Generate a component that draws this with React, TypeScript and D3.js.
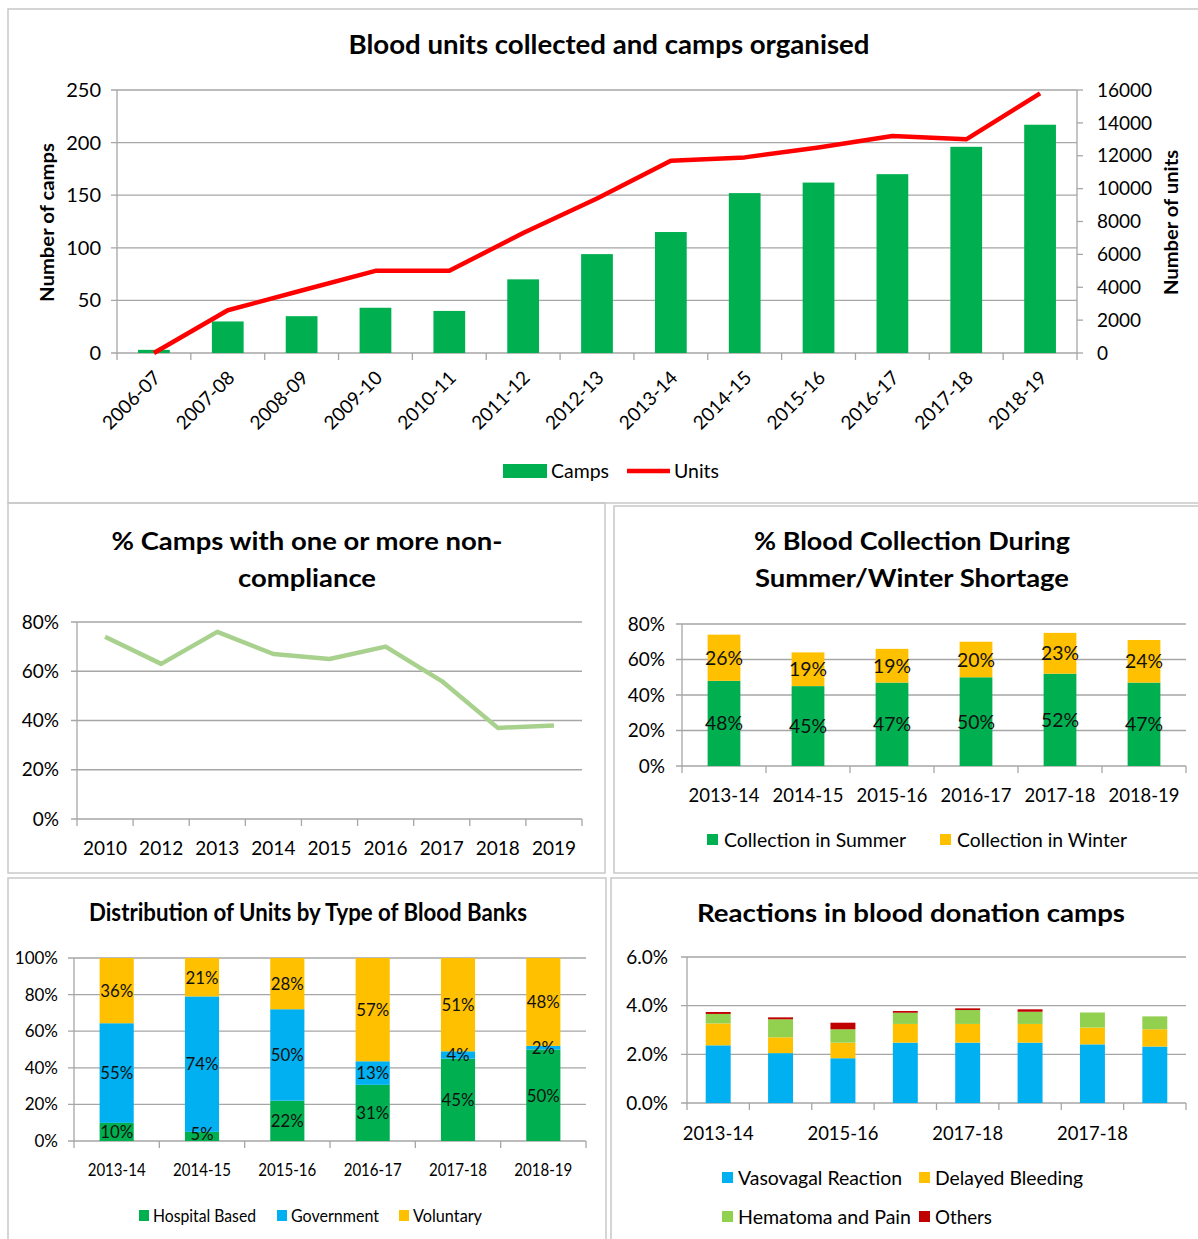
import React from "react";
import * as d3 from "d3";

// --- data ---
const topCats = ["2006-07", "2007-08", "2008-09", "2009-10", "2010-11", "2011-12", "2012-13", "2013-14", "2014-15", "2015-16", "2016-17", "2017-18", "2018-19"];
const camps = [3, 30, 35, 43, 40, 70, 94, 115, 152, 162, 170, 196, 217];
const units = [0, 2600, 3800, 5000, 5000, 7300, 9400, 11700, 11900, 12500, 13200, 13000, 15800];
const campTicks = [0, 50, 100, 150, 200, 250];
const unitTicks = [0, 2000, 4000, 6000, 8000, 10000, 12000, 14000, 16000];

const ncYears = ["2010", "2012", "2013", "2014", "2015", "2016", "2017", "2018", "2019"];
const nonCompliance = [74, 63, 76, 67, 65, 70, 56, 37, 38];
const ncTicks = [0, 20, 40, 60, 80];

const seasonCats = ["2013-14", "2014-15", "2015-16", "2016-17", "2017-18", "2018-19"];
const summer = [48, 45, 47, 50, 52, 47];
const winter = [26, 19, 19, 20, 23, 24];
const seasonTicks = [0, 20, 40, 60, 80];

const bankCats = ["2013-14", "2014-15", "2015-16", "2016-17", "2017-18", "2018-19"];
const hospital = [10, 5, 22, 31, 45, 50];
const government = [55, 74, 50, 13, 4, 2];
const voluntary = [36, 21, 28, 57, 51, 48];
const bankTicks = [0, 20, 40, 60, 80, 100];

const reactionCats = ["2013-14", "2014-15", "2015-16", "2016-17", "2017-18", "2018-19", "2017-18", "2018-19"];
const vasovagal = [2.37, 2.05, 1.84, 2.48, 2.48, 2.48, 2.41, 2.32];
const delayed = [0.9, 0.65, 0.64, 0.77, 0.77, 0.77, 0.69, 0.71];
const hematoma = [0.39, 0.74, 0.55, 0.46, 0.57, 0.5, 0.62, 0.53];
const others = [0.08, 0.08, 0.27, 0.07, 0.07, 0.1, 0, 0];
const reactionTicks = [0, 2, 4, 6];

const GREEN = "#00b050";
const YELLOW = "#ffc000";
const BLUE = "#00b0f0";
const LGREEN = "#92d050";
const DRED = "#c00000";
const GRID = "#a6a6a6";
const BORDER = "#c8c8c8";
const FONT = "Lato, 'Liberation Sans', sans-serif";

// value-axis gridlines + labels
function YGrid({ y, ticks, x0, x1, fmt, size = 18, gap = 17 }: any) {
  return (
    <g>
      {ticks.map((t: number) => (
        <g key={t}>
          <line x1={x0 - 6} x2={x1} y1={y(t)} y2={y(t)} stroke={GRID} strokeWidth={1.3} />
          <text x={x0 - gap} y={y(t)} dy="0.35em" textAnchor="end" fontSize={size}>{fmt(t)}</text>
        </g>
      ))}
      <line x1={x0} x2={x0} y1={y(ticks[0])} y2={y(ticks[ticks.length - 1])} stroke={GRID} strokeWidth={1.3} />
    </g>
  );
}

function XTicks({ x, cats, y0, x1 }: any) {
  return (
    <g>
      {cats.map((c: string, i: number) => {
        const e = (x(c) ?? 0) - (x.step() - x.bandwidth()) / 2;
        return <line key={i} x1={e} x2={e} y1={y0} y2={y0 + 7} stroke={GRID} strokeWidth={1.3} />;
      })}
      <line x1={x1} x2={x1} y1={y0} y2={y0 + 7} stroke={GRID} strokeWidth={1.3} />
    </g>
  );
}

function Title({ lines, cx, ys, lens, size }: any) {
  return (
    <g>
      {lines.map((l: string, i: number) => (
        <text key={i} x={cx} y={ys[i]} dy="0.35em" textAnchor="middle" fontWeight="bold" fontSize={size}
          textLength={lens[i]} lengthAdjust="spacingAndGlyphs">{l}</text>
      ))}
    </g>
  );
}

function LegendText({ x, y, len, size = 19, children }: any) {
  return (
    <text x={x} y={y} dy="0.35em" fontSize={size} textLength={len} lengthAdjust="spacingAndGlyphs">{children}</text>
  );
}

function TopChart() {
  const left = 117, right = 1077, top = 90, bottom = 353;
  const x = d3.scaleBand<string>().domain(topCats).range([left, right]).paddingInner(0.57).paddingOuter(0.285);
  const yL = d3.scaleLinear().domain([0, 250]).range([bottom, top]);
  const yR = d3.scaleLinear().domain([0, 16000]).range([bottom, top]);
  const line = d3.line<number>().x((_, i) => (x(topCats[i]) ?? 0) + x.bandwidth() / 2).y((d) => yR(d));
  return (
    <g>
      <Title lines={["Blood units collected and camps organised"]} cx={609} ys={[45]} lens={[521]} size={26} />
      <YGrid y={yL} ticks={campTicks} x0={left} x1={right} fmt={(t: number) => t} size={20} gap={16} />
      <line x1={right} x2={right} y1={bottom} y2={top} stroke={GRID} strokeWidth={1.3} />
      {unitTicks.map((t) => (
        <g key={t}>
          <line x1={right} x2={right + 6} y1={yR(t)} y2={yR(t)} stroke={GRID} strokeWidth={1.3} />
          <text x={right + 20} y={yR(t)} dy="0.35em" fontSize={19}>{t}</text>
        </g>
      ))}
      <XTicks x={x} cats={topCats} y0={bottom} x1={right} />
      {camps.map((d, i) => (
        <rect key={i} x={x(topCats[i])} y={yL(d)} width={x.bandwidth()} height={yL(0) - yL(d)} fill={GREEN} />
      ))}
      <path d={line(units) ?? ""} fill="none" stroke="#ff0000" strokeWidth={4.5} strokeLinejoin="round" />
      {topCats.map((c) => {
        const cx = (x(c) ?? 0) + x.bandwidth() / 2;
        return (
          <text key={c} transform={`translate(${cx + 8},${bottom + 26}) rotate(-45)`} textAnchor="end" fontSize={19}>{c}</text>
        );
      })}
      <text transform={`translate(54,${(top + bottom) / 2 + 1}) rotate(-90)`} textAnchor="middle" fontWeight="bold" fontSize={19}
        textLength={159} lengthAdjust="spacingAndGlyphs">Number of camps</text>
      <text transform={`translate(1178,${(top + bottom) / 2 + 1}) rotate(-90)`} textAnchor="middle" fontWeight="bold" fontSize={19}
        textLength={145} lengthAdjust="spacingAndGlyphs">Number of units</text>
      <rect x={503} y={464} width={44} height={14} fill={GREEN} />
      <LegendText x={551} y={471} len={58}>Camps</LegendText>
      <line x1={627} x2={670} y1={471} y2={471} stroke="#ff0000" strokeWidth={4.5} />
      <LegendText x={674} y={471} len={45}>Units</LegendText>
    </g>
  );
}

function NonCompChart() {
  const left = 77, right = 582, top = 622, bottom = 819;
  const x = d3.scaleBand<string>().domain(ncYears).range([left, right]);
  const y = d3.scaleLinear().domain([0, 80]).range([bottom, top]);
  const line = d3.line<number>().x((_, i) => (x(ncYears[i]) ?? 0) + x.bandwidth() / 2).y((d) => y(d));
  return (
    <g>
      <Title lines={["% Camps with one or more non-", "compliance"]} cx={307} ys={[541, 578]} lens={[391, 138]} size={25} />
      <YGrid y={y} ticks={ncTicks} x0={left} x1={right} fmt={(t: number) => `${t}%`} size={19} gap={18} />
      <XTicks x={x} cats={ncYears} y0={bottom} x1={right} />
      <path d={line(nonCompliance) ?? ""} fill="none" stroke="#a9d18e" strokeWidth={4.5} strokeLinejoin="round" />
      {ncYears.map((c) => (
        <text key={c} x={(x(c) ?? 0) + x.bandwidth() / 2} y={848} dy="0.35em" textAnchor="middle" fontSize={19}>{c}</text>
      ))}
    </g>
  );
}

function SeasonChart() {
  const left = 682, right = 1186, top = 624, bottom = 766;
  const x = d3.scaleBand<string>().domain(seasonCats).range([left, right]).paddingInner(0.61).paddingOuter(0.305);
  const y = d3.scaleLinear().domain([0, 80]).range([bottom, top]);
  const rows = seasonCats.map((_, i) => ({ s: summer[i], w: winter[i] }));
  const layers = d3.stack<any>().keys(["s", "w"])(rows);
  const vals = [summer, winter];
  const colors = [GREEN, YELLOW];
  return (
    <g>
      <Title lines={["% Blood Collection During", "Summer/Winter Shortage"]} cx={912} ys={[541, 578]} lens={[316, 314]} size={25} />
      <YGrid y={y} ticks={seasonTicks} x0={left} x1={right} fmt={(t: number) => `${t}%`} size={19} gap={17} />
      <XTicks x={x} cats={seasonCats} y0={bottom} x1={right} />
      {layers.map((layer, li) => (
        <g key={li}>
          {layer.map((seg, i) => (
            <rect key={i} x={x(seasonCats[i])} y={y(seg[1])} width={x.bandwidth()} height={y(seg[0]) - y(seg[1])} fill={colors[li]} />
          ))}
        </g>
      ))}
      {layers.map((layer, li) =>
        layer.map((seg, i) => (
          <text key={`${li}-${i}`} x={(x(seasonCats[i]) ?? 0) + x.bandwidth() / 2} y={y((seg[0] + seg[1]) / 2)} dy="0.35em"
            textAnchor="middle" fontSize={20} fill="#111" textLength={38} lengthAdjust="spacingAndGlyphs">{vals[li][i]}%</text>
        ))
      )}
      {seasonCats.map((c) => (
        <text key={c} x={(x(c) ?? 0) + x.bandwidth() / 2} y={795} dy="0.35em" textAnchor="middle" fontSize={19}
          textLength={71} lengthAdjust="spacingAndGlyphs">{c}</text>
      ))}
      <rect x={707} y={834} width={11} height={11} fill={GREEN} />
      <LegendText x={724} y={840} len={182}>Collection in Summer</LegendText>
      <rect x={940} y={834} width={11} height={11} fill={YELLOW} />
      <LegendText x={957} y={840} len={170}>Collection in Winter</LegendText>
    </g>
  );
}

function BankChart() {
  const left = 74, right = 586, top = 958, bottom = 1141;
  const x = d3.scaleBand<string>().domain(bankCats).range([left, right]).paddingInner(0.6).paddingOuter(0.3);
  const y = d3.scaleLinear().domain([0, 100]).range([bottom, top]);
  // 100% stacked: normalise each column
  const tot = bankCats.map((_, i) => hospital[i] + government[i] + voluntary[i]);
  const rows = bankCats.map((_, i) => ({
    h: (hospital[i] / tot[i]) * 100,
    g: (government[i] / tot[i]) * 100,
    v: (voluntary[i] / tot[i]) * 100,
  }));
  const layers = d3.stack<any>().keys(["h", "g", "v"])(rows);
  const vals = [hospital, government, voluntary];
  const colors = [GREEN, BLUE, YELLOW];
  return (
    <g>
      <Title lines={["Distribution of Units by Type of Blood Banks"]} cx={308} ys={[913]} lens={[438]} size={24} />
      <YGrid y={y} ticks={bankTicks} x0={left} x1={right} fmt={(t: number) => `${t}%`} size={17} gap={16} />
      <XTicks x={x} cats={bankCats} y0={bottom} x1={right} />
      {layers.map((layer, li) => (
        <g key={li}>
          {layer.map((seg, i) => (
            <rect key={i} x={x(bankCats[i])} y={y(seg[1])} width={x.bandwidth()} height={y(seg[0]) - y(seg[1])} fill={colors[li]} />
          ))}
        </g>
      ))}
      {layers.map((layer, li) =>
        layer.map((seg, i) => (
          <text key={`${li}-${i}`} x={(x(bankCats[i]) ?? 0) + x.bandwidth() / 2} y={Math.min(y((seg[0] + seg[1]) / 2), bottom - 7)} dy="0.35em"
            textAnchor="middle" fontSize={18} fill="#111" textLength={vals[li][i] < 10 ? 23 : 33} lengthAdjust="spacingAndGlyphs">
            {vals[li][i]}%
          </text>
        ))
      )}
      {bankCats.map((c) => (
        <text key={c} x={(x(c) ?? 0) + x.bandwidth() / 2} y={1170} dy="0.35em" textAnchor="middle" fontSize={17} textLength={58} lengthAdjust="spacingAndGlyphs">{c}</text>
      ))}
      <rect x={139} y={1210} width={10} height={11} fill={GREEN} />
      <LegendText x={153} y={1216} len={103} size={18}>Hospital Based</LegendText>
      <rect x={277} y={1210} width={10} height={11} fill={BLUE} />
      <LegendText x={291} y={1216} len={88} size={18}>Government</LegendText>
      <rect x={399} y={1210} width={10} height={11} fill={YELLOW} />
      <LegendText x={413} y={1216} len={69} size={18}>Voluntary</LegendText>
    </g>
  );
}

function ReactionChart() {
  const left = 687, right = 1186, top = 957, bottom = 1103;
  const keys = d3.range(reactionCats.length).map(String);
  const x = d3.scaleBand<string>().domain(keys).range([left, right]).paddingInner(0.6).paddingOuter(0.3);
  const y = d3.scaleLinear().domain([0, 6]).range([bottom, top]);
  const rows = reactionCats.map((_, i) => ({ a: vasovagal[i], b: delayed[i], c: hematoma[i], d: others[i] }));
  const layers = d3.stack<any>().keys(["a", "b", "c", "d"])(rows);
  const colors = [BLUE, YELLOW, LGREEN, DRED];
  return (
    <g>
      <Title lines={["Reactions in blood donation camps"]} cx={911} ys={[913]} lens={[428]} size={25} />
      <YGrid y={y} ticks={reactionTicks} x0={left} x1={right} fmt={(t: number) => `${t.toFixed(1)}%`} size={19} gap={19} />
      <XTicks x={x} cats={keys} y0={bottom} x1={right} />
      {layers.map((layer, li) => (
        <g key={li}>
          {layer.map((seg, i) => (
            <rect key={i} x={x(keys[i])} y={y(seg[1])} width={x.bandwidth()} height={Math.max(0, y(seg[0]) - y(seg[1]))} fill={colors[li]} />
          ))}
        </g>
      ))}
      {reactionCats.map((c, i) =>
        i % 2 === 0 ? (
          <text key={i} x={(x(keys[i]) ?? 0) + x.bandwidth() / 2} y={1133} dy="0.35em" textAnchor="middle" fontSize={19}
            textLength={71} lengthAdjust="spacingAndGlyphs">{c}</text>
        ) : null
      )}
      <rect x={722} y={1172} width={11} height={11} fill={BLUE} />
      <LegendText x={738} y={1178} len={164}>Vasovagal Reaction</LegendText>
      <rect x={919} y={1172} width={11} height={11} fill={YELLOW} />
      <LegendText x={935} y={1178} len={148}>Delayed Bleeding</LegendText>
      <rect x={722} y={1211} width={11} height={11} fill={LGREEN} />
      <LegendText x={738} y={1217} len={173}>Hematoma and Pain</LegendText>
      <rect x={919} y={1211} width={11} height={11} fill={DRED} />
      <LegendText x={935} y={1217} len={57}>Others</LegendText>
    </g>
  );
}

export default function App() {
  return (
    <>
      <style>{"body{margin:0}"}</style>
      <svg width={1198} height={1239} style={{ display: "block", fontFamily: FONT, background: "#fff" }}>
        {/* panel frames */}
        <rect x={8} y={9} width={1200} height={494} fill="none" stroke={BORDER} strokeWidth={1.5} />
        <rect x={8} y={503} width={597} height={370} fill="none" stroke={BORDER} strokeWidth={1.5} />
        <rect x={614} y={506} width={600} height={367} fill="none" stroke={BORDER} strokeWidth={1.5} />
        <rect x={8} y={878} width={598} height={380} fill="none" stroke={BORDER} strokeWidth={1.5} />
        <rect x={611} y={878} width={600} height={380} fill="none" stroke={BORDER} strokeWidth={1.5} />
        <TopChart />
        <NonCompChart />
        <SeasonChart />
        <BankChart />
        <ReactionChart />
      </svg>
    </>
  );
}
